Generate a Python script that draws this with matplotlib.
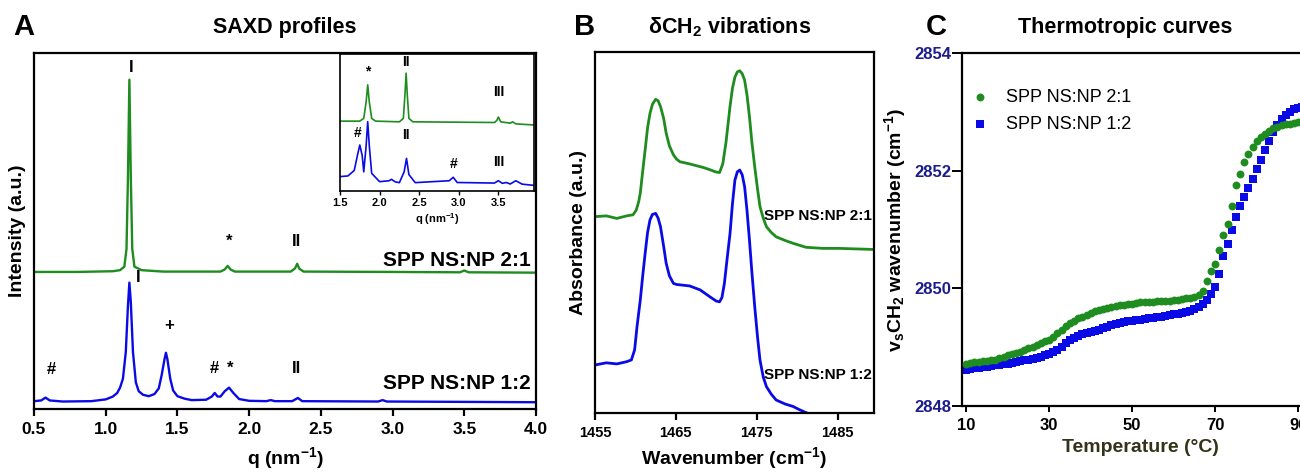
import matplotlib
matplotlib.use("Agg")
import matplotlib.pyplot as plt

plt.rcParams['font.family'] = ['Liberation Sans', 'DejaVu Sans']
plt.rcParams['mathtext.fontset'] = 'custom'
plt.rcParams['mathtext.rm'] = 'Liberation Sans:bold'
plt.rcParams['mathtext.it'] = 'Liberation Sans:bold'
plt.rcParams['mathtext.bf'] = 'Liberation Sans:bold'

GREEN = '#1e8c1e'
BLUE = '#0a0ae6'

# ---------------- Panel A: SAXD profiles (normalised intensity, offset) ----------------
saxd_q_21 = [0.50, 0.80, 1.05, 1.10, 1.13, 1.145, 1.155, 1.165, 1.175, 1.185, 1.20, 1.25, 1.40,
             1.80, 1.83, 1.85, 1.87, 1.90, 2.29, 2.32, 2.335, 2.35, 2.38, 3.00, 3.47, 3.50, 3.53, 4.00]
saxd_i_21 = [0.385, 0.385, 0.387, 0.390, 0.400, 0.450, 0.650, 0.925, 0.650, 0.450, 0.400, 0.390, 0.386,
             0.386, 0.392, 0.402, 0.392, 0.386, 0.386, 0.395, 0.408, 0.394, 0.386, 0.385, 0.384, 0.389, 0.384, 0.383]

saxd_q_12 = [0.50, 0.55, 0.58, 0.61, 0.70, 0.90, 1.00, 1.05, 1.08, 1.10, 1.12, 1.14, 1.155, 1.165, 1.175,
             1.19, 1.21, 1.23, 1.26, 1.30, 1.34, 1.37, 1.39, 1.41, 1.42, 1.43, 1.45, 1.47, 1.50, 1.55,
             1.60, 1.70, 1.74, 1.76, 1.78, 1.80, 1.83, 1.86, 1.89, 1.93, 2.00, 2.12, 2.15, 2.18, 2.30,
             2.34, 2.37, 2.90, 2.93, 2.96, 3.50, 4.00]
saxd_i_12 = [0.022, 0.024, 0.032, 0.024, 0.021, 0.022, 0.027, 0.035, 0.045, 0.060, 0.085, 0.160, 0.290, 0.355, 0.300,
             0.160, 0.075, 0.050, 0.040, 0.036, 0.042, 0.058, 0.095, 0.140, 0.158, 0.140, 0.085, 0.052, 0.036, 0.029,
             0.025, 0.026, 0.035, 0.045, 0.035, 0.035, 0.050, 0.060, 0.045, 0.028, 0.023, 0.022, 0.025, 0.022, 0.022,
             0.031, 0.022, 0.021, 0.025, 0.021, 0.020, 0.019]

# inset (zoom 1.5 - 3.95 nm^-1)
ins_q_21 = [1.50, 1.75, 1.80, 1.83, 1.85, 1.87, 1.90, 1.95, 2.25, 2.30, 2.32, 2.335, 2.35, 2.37, 2.42,
            3.45, 3.48, 3.50, 3.53, 3.65, 3.68, 3.72, 3.95]
ins_i_21 = [0.510, 0.510, 0.530, 0.650, 0.775, 0.650, 0.530, 0.510, 0.505, 0.530, 0.700, 0.860, 0.700, 0.530, 0.505,
            0.500, 0.515, 0.540, 0.505, 0.495, 0.505, 0.490, 0.482]

ins_q_12 = [1.50, 1.60, 1.68, 1.72, 1.75, 1.78, 1.80, 1.83, 1.85, 1.87, 1.90, 2.00, 2.12, 2.15, 2.20,
            2.25, 2.31, 2.34, 2.37, 2.45, 2.88, 2.93, 2.98, 3.45, 3.50, 3.55, 3.60, 3.65, 3.72, 3.80, 3.95]
ins_i_12 = [0.105, 0.110, 0.150, 0.260, 0.336, 0.260, 0.140, 0.330, 0.506, 0.330, 0.129, 0.068, 0.075, 0.085, 0.066,
            0.061, 0.140, 0.238, 0.120, 0.061, 0.075, 0.100, 0.062, 0.058, 0.075, 0.056, 0.062, 0.051, 0.075, 0.050, 0.041]

# ---------------- Panel B: FTIR delta CH2 region ----------------
ir_wn_21 = [1455.0, 1456.4, 1457.7, 1458.9, 1459.7, 1460.1, 1460.4, 1460.6, 1460.9, 1461.2, 1461.5, 1461.8,
            1462.1, 1462.5, 1462.8, 1463.1, 1463.5, 1463.8, 1464.2, 1464.7, 1465.1, 1465.5, 1466.7, 1468.4,
            1469.2, 1469.9, 1470.4, 1470.8, 1471.2, 1471.7, 1472.0, 1472.3, 1472.6, 1472.9, 1473.2, 1473.5,
            1473.8, 1474.1, 1474.4, 1474.75, 1475.1, 1475.4, 1475.8, 1476.2, 1476.8, 1477.4, 1478.5, 1479.5,
            1481.1, 1483.2, 1485.2, 1489.5]
ir_a_21 = [0.544, 0.546, 0.539, 0.546, 0.549, 0.562, 0.585, 0.609, 0.670, 0.729, 0.790, 0.830,
           0.855, 0.869, 0.865, 0.849, 0.815, 0.775, 0.740, 0.715, 0.703, 0.696, 0.690, 0.680,
           0.674, 0.668, 0.666, 0.690, 0.750, 0.850, 0.900, 0.930, 0.945, 0.948, 0.940, 0.922,
           0.880, 0.821, 0.750, 0.682, 0.620, 0.572, 0.540, 0.516, 0.500, 0.488, 0.478, 0.470,
           0.459, 0.456, 0.456, 0.453]

ir_wn_12 = [1455.0, 1456.4, 1457.7, 1458.9, 1459.5, 1459.9, 1460.2, 1460.6, 1460.9, 1461.2, 1461.5, 1461.8,
            1462.1, 1462.5, 1462.8, 1463.1, 1463.5, 1463.8, 1464.2, 1464.7, 1465.1, 1465.5, 1466.7, 1468.0,
            1469.2, 1470.0, 1470.4, 1470.7, 1471.0, 1471.3, 1471.7, 1472.0, 1472.3, 1472.6, 1472.9, 1473.2,
            1473.5, 1473.8, 1474.1, 1474.4, 1474.75, 1475.1, 1475.4, 1475.8, 1476.2, 1476.8, 1477.4, 1478.5,
            1479.5, 1480.3, 1481.1]
ir_a_12 = [0.133, 0.139, 0.136, 0.142, 0.147, 0.175, 0.240, 0.313, 0.380, 0.442, 0.500, 0.535,
           0.550, 0.553, 0.540, 0.516, 0.460, 0.415, 0.380, 0.359, 0.356, 0.355, 0.352, 0.341,
           0.322, 0.310, 0.308, 0.320, 0.359, 0.420, 0.498, 0.580, 0.645, 0.668, 0.673, 0.660,
           0.627, 0.560, 0.479, 0.390, 0.295, 0.210, 0.147, 0.100, 0.073, 0.052, 0.036, 0.025,
           0.018, 0.009, 0.001]

# ---------------- Panel C: thermotropic curves ----------------
temp_c = [10, 11, 12, 13, 14, 15, 16, 17, 18, 19, 20, 21, 22, 23, 24, 25, 26, 27, 28, 29,
          30, 31, 32, 33, 34, 35, 36, 37, 38, 39, 40, 41, 42, 43, 44, 45, 46, 47, 48, 49,
          50, 51, 52, 53, 54, 55, 56, 57, 58, 59, 60, 61, 62, 63, 64, 65, 66, 67, 68, 69,
          70, 71, 72, 73, 74, 75, 76, 77, 78, 79, 80, 81, 82, 83, 84, 85, 86, 87, 88, 89,
          90, 91, 92, 93, 94, 95]
nu_21 = [2848.72, 2848.73, 2848.74, 2848.75, 2848.76, 2848.77, 2848.78, 2848.79, 2848.81, 2848.83,
         2848.86, 2848.88, 2848.90, 2848.92, 2848.95, 2848.98, 2849.01, 2849.04, 2849.07, 2849.10,
         2849.13, 2849.18, 2849.24, 2849.30, 2849.36, 2849.41, 2849.45, 2849.49, 2849.52, 2849.55,
         2849.58, 2849.61, 2849.63, 2849.65, 2849.67, 2849.69, 2849.70, 2849.71, 2849.72, 2849.73,
         2849.74, 2849.75, 2849.76, 2849.76, 2849.77, 2849.77, 2849.78, 2849.78, 2849.79, 2849.79,
         2849.80, 2849.81, 2849.82, 2849.83, 2849.84, 2849.86, 2849.89, 2849.95, 2850.12, 2850.30,
         2850.42, 2850.65, 2850.90, 2851.10, 2851.40, 2851.75, 2851.95, 2852.15, 2852.28, 2852.40,
         2852.50, 2852.57, 2852.63, 2852.68, 2852.72, 2852.75, 2852.77, 2852.79, 2852.80, 2852.81,
         2852.82, 2852.83, 2852.84, 2852.85, 2852.85, 2852.86]
nu_12 = [2848.62, 2848.63, 2848.64, 2848.65, 2848.66, 2848.67, 2848.68, 2848.69, 2848.70, 2848.71,
         2848.72, 2848.73, 2848.74, 2848.76, 2848.78, 2848.79, 2848.80, 2848.82, 2848.84, 2848.86,
         2848.89, 2848.92, 2848.96, 2849.01, 2849.07, 2849.12, 2849.16, 2849.19, 2849.22, 2849.24,
         2849.26, 2849.28, 2849.30, 2849.32, 2849.35, 2849.37, 2849.39, 2849.41, 2849.43, 2849.44,
         2849.45, 2849.46, 2849.47, 2849.48, 2849.49, 2849.50, 2849.51, 2849.52, 2849.53, 2849.55,
         2849.56, 2849.57, 2849.58, 2849.60, 2849.62, 2849.65, 2849.68, 2849.73, 2849.80, 2849.90,
         2850.02, 2850.24, 2850.55, 2850.76, 2851.00, 2851.22, 2851.40, 2851.55, 2851.70, 2851.86,
         2852.02, 2852.18, 2852.35, 2852.51, 2852.65, 2852.77, 2852.88, 2852.95, 2853.00, 2853.04,
         2853.07, 2853.09, 2853.10, 2853.11, 2853.12, 2853.12]

W, H = 1300, 473
fig = plt.figure(figsize=(13, 4.73), dpi=100)


def box(l, t, r, b):
    return [l / W, 1 - b / H, (r - l) / W, (b - t) / H]


def style_spines(ax, lw=1.6):
    for s in ax.spines.values():
        s.set_linewidth(lw)
        s.set_color('black')


# ---- A ----
axA = fig.add_axes(box(34, 53, 536, 409))
axA.plot(saxd_q_21, saxd_i_21, color=GREEN, lw=1.7)
axA.plot(saxd_q_12, saxd_i_12, color=BLUE, lw=1.7)
axA.set_xlim(0.5, 4.0)
axA.set_ylim(0, 1)
axA.set_yticks([])
axA.set_xticks([0.5, 1.0, 1.5, 2.0, 2.5, 3.0, 3.5, 4.0])
axA.set_xticklabels(['0.5', '1.0', '1.5', '2.0', '2.5', '3.0', '3.5', '4.0'])
axA.tick_params(axis='x', direction='out', length=5, width=1.6, labelsize=12.5, pad=4)
for lb in axA.get_xticklabels():
    lb.set_fontweight('bold')
style_spines(axA)
axA.set_xlabel(r'q (nm$^{-1}$)', fontsize=14, fontweight='bold', labelpad=6)
axA.set_ylabel('Intensity (a.u.)', fontsize=14, fontweight='bold', labelpad=6)

ann = dict(ha='center', va='center', fontweight='bold', fontsize=12)
axA.text(1.175, 0.96, 'I', **ann)
axA.text(1.225, 0.37, 'I', **ann)
axA.text(1.86, 0.47, '*', **ann)
axA.text(2.33, 0.47, 'II', **ann)
axA.text(1.44, 0.235, '+', **ann)
axA.text(0.62, 0.11, '#', **ann)
axA.text(1.76, 0.115, '#', **ann)
axA.text(1.87, 0.115, '*', **ann)
axA.text(2.33, 0.115, 'II', **ann)
axA.text(3.96, 0.39, 'SPP NS:NP 2:1', ha='right', va='bottom', fontsize=15, fontweight='bold')
axA.text(3.96, 0.045, 'SPP NS:NP 1:2', ha='right', va='bottom', fontsize=15, fontweight='bold')

# ---- inset ----
axI = fig.add_axes(box(340, 54, 534, 191))
axI.plot(ins_q_21, ins_i_21, color=GREEN, lw=1.2)
axI.plot(ins_q_12, ins_i_12, color=BLUE, lw=1.2)
axI.set_xlim(1.5, 3.95)
axI.set_ylim(0, 1)
axI.set_yticks([])
axI.set_xticks([1.5, 2.0, 2.5, 3.0, 3.5])
axI.set_xticklabels(['1.5', '2.0', '2.5', '3.0', '3.5'])
axI.tick_params(axis='x', direction='out', length=3, width=1.0, labelsize=8, pad=2)
for lb in axI.get_xticklabels():
    lb.set_fontweight('bold')
style_spines(axI, 1.2)
axI.set_xlabel(r'q (nm$^{-1}$)', fontsize=8, fontweight='bold', labelpad=2)
ann2 = dict(ha='center', va='center', fontweight='bold', fontsize=10)
axI.text(1.85, 0.87, '*', **ann2)
axI.text(2.335, 0.94, 'II', **ann2)
axI.text(3.5, 0.72, 'III', **ann2)
axI.text(1.72, 0.42, '#', **ann2)
axI.text(2.335, 0.41, 'II', **ann2)
axI.text(2.93, 0.20, '#', **ann2)
axI.text(3.5, 0.21, 'III', **ann2)

# ---- B ----
axB = fig.add_axes(box(595, 52, 874, 413))
axB.plot(ir_wn_21, ir_a_21, color=GREEN, lw=2.0, solid_joinstyle='round')
axB.plot(ir_wn_12, ir_a_12, color=BLUE, lw=2.0, solid_joinstyle='round')
axB.set_xlim(1455, 1489.5)
axB.set_ylim(0, 1)
axB.set_yticks([])
axB.set_xticks([1455, 1465, 1475, 1485])
axB.tick_params(axis='x', direction='out', length=5, width=1.6, labelsize=10.5, pad=4)
for lb in axB.get_xticklabels():
    lb.set_fontweight('bold')
style_spines(axB)
axB.set_xlabel(r'Wavenumber (cm$^{-1}$)', fontsize=14, fontweight='bold', labelpad=4)
axB.set_ylabel('Absorbance (a.u.)', fontsize=14, fontweight='bold', labelpad=6)
axB.text(1489.2, 0.545, 'SPP NS:NP 2:1', ha='right', va='center', fontsize=11, fontweight='bold')
axB.text(1489.2, 0.105, 'SPP NS:NP 1:2', ha='right', va='center', fontsize=11, fontweight='bold')

# ---- C ----
axC = fig.add_axes(box(962, 53, 962 + 86 * 4.15, 406))
axC.scatter(temp_c, nu_21, s=32, marker='o', color=GREEN, linewidths=0, zorder=3,
            label='SPP NS:NP 2:1', clip_on=True)
axC.scatter(temp_c, nu_12, s=28, marker='s', color=BLUE, linewidths=0, zorder=2,
            label='SPP NS:NP 1:2', clip_on=True)
axC.set_xlim(9, 95)
axC.set_ylim(2848, 2854)
axC.set_xticks([10, 30, 50, 70, 90])
axC.set_yticks([2848, 2850, 2852, 2854])
axC.tick_params(axis='x', direction='out', length=4, width=1.4, labelsize=12, pad=5)
axC.tick_params(axis='y', direction='out', length=7, width=1.4, labelsize=12, pad=1,
                labelcolor='#1c1c8c')
for lb in axC.get_xticklabels() + axC.get_yticklabels():
    lb.set_fontweight('bold')
style_spines(axC)
axC.set_xlabel('Temperature (°C)', fontsize=14, fontweight='bold', color='#33331a', labelpad=4)
axC.set_ylabel(r'v$_{\mathbf{s}}$CH$_{\mathbf{2}}$ wavenumber (cm$^{-1}$)', fontsize=14,
               fontweight='bold', labelpad=4)
leg = axC.legend(loc='upper left', bbox_to_anchor=(-0.01, 0.934), frameon=False, fontsize=13,
                 handlelength=1.0, handletextpad=0.95, labelspacing=0.55, markerscale=1.0,
                 borderaxespad=0.3)

# ---- panel letters & titles ----
fig.text(24 / W, 1 - 27 / H, 'A', fontsize=21, fontweight='bold', ha='center', va='center')
fig.text(285 / W, 1 - 27 / H, 'SAXD profiles', fontsize=15.5, fontweight='bold', ha='center', va='center')
fig.text(585 / W, 1 - 27 / H, 'B', fontsize=21, fontweight='bold', ha='center', va='center')
fig.text(730 / W, 1 - 27 / H, r'δCH$_2$ vibrations', fontsize=15.5, fontweight='bold', ha='center', va='center')
fig.text(936 / W, 1 - 27 / H, 'C', fontsize=21, fontweight='bold', ha='center', va='center')
fig.text(1125 / W, 1 - 27 / H, 'Thermotropic curves', fontsize=15.5, fontweight='bold', ha='center', va='center')

fig.savefig('out.png', dpi=100)
